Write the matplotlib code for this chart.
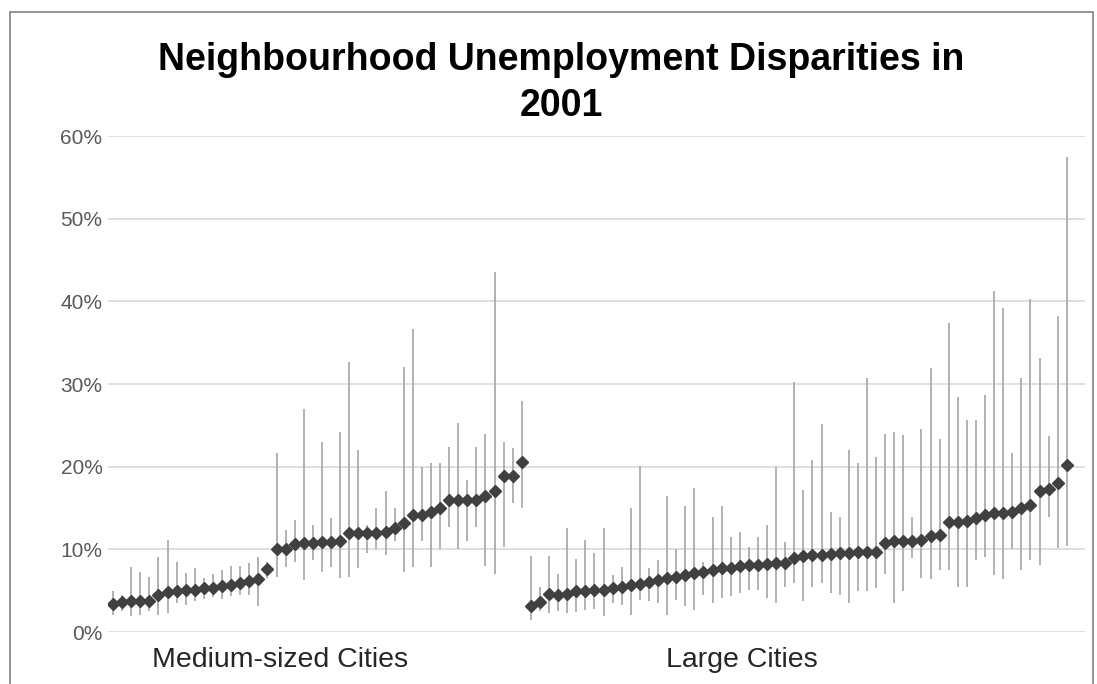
import numpy as np
import matplotlib
matplotlib.use('Agg')
from matplotlib import pyplot as plt
from matplotlib.ticker import PercentFormatter
from matplotlib.patches import Rectangle

plt.rcParams['font.family'] = ['Liberation Sans', 'DejaVu Sans']

title = 'Neighbourhood Unemployment Disparities in\n2001'
groups = ['Medium-sized Cities', 'Large Cities']

# medium-sized cities: city average, highest and lowest neighbourhood rate (%)
medium_mid = [3.4, 3.6, 3.7, 3.7, 3.7, 4.5, 4.8, 5.0, 5.1, 5.1, 5.3, 5.3, 5.6, 5.7, 5.9, 6.2,
              6.4, 7.6, 10.0, 10.1, 10.6, 10.8, 10.8, 10.9, 10.9, 11.0, 12.0, 12.0, 12.0, 12.0,
              12.1, 12.6, 13.2, 14.1, 14.1, 14.5, 15.0, 16.0, 16.0, 16.0, 16.0, 16.4, 17.0,
              18.9, 18.9, 20.6]
medium_hi = [5.0, 4.5, 7.9, 7.3, 6.7, 9.1, 11.1, 8.5, 7.1, 7.7, 6.5, 7.0, 7.5, 8.0, 8.0, 8.3,
             9.1, 8.5, 21.6, 12.3, 13.5, 27.0, 13.0, 23.0, 13.8, 24.2, 32.7, 22.0, 13.0, 15.0,
             17.0, 15.0, 32.0, 36.7, 20.0, 20.4, 20.4, 22.4, 25.3, 18.4, 22.4, 24.0, 43.5,
             23.0, 22.2, 28.0]
medium_lo = [2.0, 2.5, 1.9, 2.0, 2.5, 2.0, 2.3, 3.5, 3.3, 3.8, 4.0, 4.2, 4.0, 4.3, 4.5, 4.5,
             3.1, 6.5, 6.7, 7.9, 8.5, 6.3, 8.7, 7.3, 7.9, 6.5, 6.7, 7.7, 9.5, 10.0,
             9.3, 11.0, 7.3, 7.9, 11.0, 7.9, 10.0, 12.7, 10.0, 11.0, 12.7, 8.0, 7.0,
             10.3, 15.6, 15.0]

# large cities
large_mid = [3.2, 3.6, 4.6, 4.5, 4.6, 4.9, 5.0, 5.1, 5.1, 5.3, 5.5, 5.7, 5.8, 6.1, 6.3, 6.5,
             6.7, 6.9, 7.1, 7.3, 7.5, 7.7, 7.7, 8.0, 8.1, 8.1, 8.2, 8.3, 8.4, 8.9, 9.2, 9.3,
             9.3, 9.4, 9.5, 9.6, 9.7, 9.7, 9.7, 10.8, 11.0, 11.0, 11.0, 11.1, 11.6, 11.7,
             13.3, 13.3, 13.4, 13.8, 14.2, 14.4, 14.4, 14.5, 15.0, 15.4, 17.0, 17.3, 18.0, 20.2]
large_hi = [9.2, 5.5, 9.2, 7.0, 12.6, 8.8, 11.1, 9.5, 12.6, 6.9, 7.9, 15.0, 20.1, 7.8, 8.7, 16.4,
            10.1, 15.2, 17.4, 8.5, 13.9, 15.2, 11.5, 12.1, 10.3, 11.5, 12.9, 20.0, 10.9, 30.3,
            17.2, 20.8, 25.2, 14.5, 13.9, 22.0, 20.4, 30.7, 21.2, 24.0, 24.2, 23.8, 13.9, 24.6,
            31.9, 23.3, 37.4, 28.4, 25.7, 25.7, 28.7, 41.3, 39.2, 21.6, 30.7, 40.3, 33.2, 23.7,
            38.2, 57.5]
large_lo = [1.5, 2.5, 2.3, 2.5, 2.3, 2.4, 2.7, 2.8, 1.9, 3.5, 3.3, 2.1, 3.9, 3.8, 3.5, 2.0,
            3.9, 3.1, 2.7, 4.5, 3.5, 4.1, 4.3, 4.7, 5.1, 5.1, 4.1, 3.5, 5.5, 5.9, 3.7, 5.5,
            5.9, 4.7, 4.5, 3.5, 4.9, 4.9, 5.3, 7.0, 3.5, 4.9, 8.9, 6.5, 6.4, 7.5, 7.5, 5.4,
            5.4, 8.7, 9.1, 6.9, 6.4, 10.0, 7.5, 8.7, 8.1, 13.9, 10.2, 10.4]

mid = np.array(medium_mid + large_mid) / 100
hi = np.array(medium_hi + large_hi) / 100
lo = np.array(medium_lo + large_lo) / 100
x = np.arange(len(mid))

fig = plt.figure(figsize=(10.97, 6.84), dpi=100)
ax = fig.add_axes([108 / 1097, 52 / 684, 977 / 1097, 496 / 684])

ax.vlines(x, lo, hi, color='#ababab', lw=1.3, zorder=2)
ax.plot(x, mid, ls='none', marker='D', ms=6.5, color='#404040', zorder=3)

ax.set_xlim(-0.55, 107.0)
ax.set_ylim(0, 0.6)
ax.set_yticks(np.arange(0, 0.61, 0.1))
ax.yaxis.set_major_formatter(PercentFormatter(1.0, decimals=0))
ax.tick_params(axis='y', length=0, pad=4, labelsize=15, labelcolor='#595959')
ax.set_xticks([])
ax.grid(axis='y', color='#d9d9d9', lw=1.2, zorder=0)
ax.set_axisbelow(True)
for s in ax.spines.values():
    s.set_visible(False)

for name, cx in zip(groups, [18.4, 69.25]):
    ax.text(cx, -0.056, name, transform=ax.get_xaxis_transform(), ha='center', va='center',
            fontsize=20.5, color='#262626')

fig.text(561 / 1097, 1 - 83 / 684, title, ha='center', va='center', fontsize=27,
         fontweight='bold', linespacing=1.36, color='#000000')

fig.patches.append(Rectangle((10 / 1097, -0.05), 1083 / 1097, 1.05 - 12 / 684,
                             transform=fig.transFigure, fill=False, ec='#808080', lw=1.2))

fig.savefig('out.png', dpi=100)
